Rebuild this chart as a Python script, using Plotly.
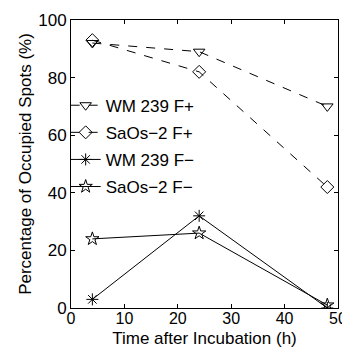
import plotly.graph_objects as go

hours = [4, 24, 48]
wm_fplus = [92, 89, 70]
saos_fplus = [93, 82, 42]
wm_fminus = [3, 32, 0]
saos_fminus = [24, 26, 1]

names = ["WM 239 F+", "SaOs\u22122 F+", "WM 239 F\u2212", "SaOs\u22122 F\u2212"]
series = [wm_fplus, saos_fplus, wm_fminus, saos_fminus]
symbols = ["triangle-down-open", "diamond-open", "asterisk-open", "star-open"]
dashes = ["dash", "dash", "solid", "solid"]

fig = go.Figure()
for i, (n, s, sym, d) in enumerate(zip(names, series, symbols, dashes)):
    fig.add_trace(go.Scatter(
        x=hours, y=s, name=n, mode="lines+markers", legendgroup=f"g{i}",
        line=dict(color="black", width=1, dash=d),
        marker=dict(symbol=sym, size=10, color="black", line=dict(color="black", width=1)),
    ))

axis_common = dict(
    showline=True, linecolor="black", linewidth=1, mirror="ticks",
    ticks="inside", ticklen=4, tickcolor="black", showgrid=False, zeroline=False,
    automargin=False,
)
# page body has an 8px default margin, so the figure is sized/offset to compensate
fig.update_layout(
    width=342, height=340,
    margin=dict(l=63, r=12, t=12, b=40),
    plot_bgcolor="white", paper_bgcolor="white",
    font=dict(family="Liberation Sans, Arial, sans-serif", size=17, color="black"),
    xaxis=dict(range=[0, 50], tickvals=[0, 10, 20, 30, 40, 50], ticklabelstandoff=-4,
               tickfont=dict(size=16, color="black"),
               title=dict(text="Time after Incubation (h)", font=dict(size=17), standoff=5),
               **axis_common),
    yaxis=dict(range=[0, 100], tickvals=[0, 20, 40, 60, 80, 100],
               tickfont=dict(size=17, color="black"),
               title=dict(text="Percentage of Occupied Spots (%)", font=dict(size=17), standoff=2),
               **axis_common),
    legend=dict(x=-0.02, y=0.765, xanchor="left", yanchor="top", bgcolor="rgba(0,0,0,0)",
                font=dict(size=17), itemwidth=30, tracegroupgap=2),
    showlegend=True,
)
fig.write_html("out.html")
